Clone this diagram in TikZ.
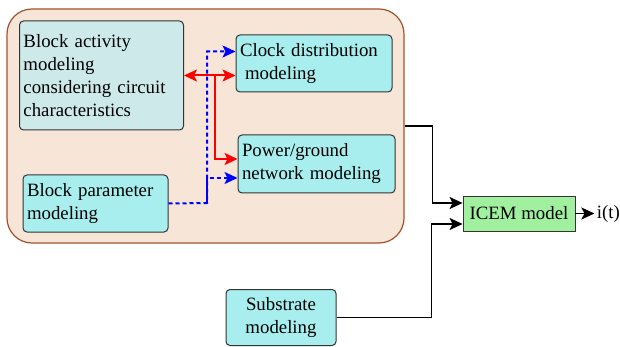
\documentclass[tikz,border=0pt]{standalone}
\usepackage{fontspec}
\setmainfont{Liberation Serif}
\usetikzlibrary{positioning, arrows.meta}

\definecolor{peach}{RGB}{247,230,216}
\definecolor{rust}{RGB}{160,82,45}
\definecolor{pale}{RGB}{205,233,233}
\definecolor{aqua}{RGB}{168,238,238}
\definecolor{mint}{RGB}{160,240,160}

\begin{document}
\begin{tikzpicture}[x=0.5pt, y=-0.5pt, >={Stealth[length=6.5pt,width=6pt,inset=1.5pt]}, font=\fontsize{9.4}{11.5}\selectfont]
        \tikzstyle{group}=[draw=rust, fill=peach, rounded corners=12.5pt, line width=0.6pt];
        \tikzstyle{mod}=[draw=black!80, fill=aqua, rounded corners=2pt, align=left, inner sep=2pt, line width=0.5pt];
        \tikzstyle{wire}=[black, line width=0.8pt];
        \tikzstyle{ctrl}=[draw=blue, line width=1pt, dash pattern=on 2pt off 1.5pt];
        \tikzstyle{link}=[draw=red, line width=1pt];
        \useasboundingbox (0,0) rectangle (620,347);

        \node[group, minimum width=198.5pt, minimum height=117pt] (chip) at (205.5,126) {};
        \node[mod, fill=pale, text width=78pt, minimum height=54.5pt] (activity) at (101.5,75.5) {Block activity\\ modeling\\ considering circuit\\ characteristics};
        \node[mod, text width=74pt, minimum height=28.5pt] (clock) at (314,63.5) {Clock distribution\\ \hspace*{2.5pt}modeling};
        \node[mod, text width=74.5pt, minimum height=29pt] (power) at (316.5,164) {Power/ground\\ network modeling};
        \node[mod, text width=68.5pt, minimum height=28.5pt] (param) at (95.5,203.5) {Block parameter\\ modeling};
        \node[mod, align=center, text width=51pt, minimum height=28pt] (substrate) at (281,317.5) {Substrate\\ modeling};
        \node[draw=black!80, fill=mint, minimum width=56pt, minimum height=17.5pt, inner sep=2pt] (icem) at (519,213.5) {ICEM model};
        \node[right=9.5pt of icem, inner sep=1pt] (it) {i(t)};

        \coordinate (rj) at (215,76);
        \coordinate (bj) at (207,203);

        \draw[link, <->] (activity.east) -- (activity.east -| clock.west);
        \draw[link, ->] (rj) |- ([yshift=2.5pt]power.west);
        \draw[ctrl, ->] (param.east) -- (bj) |- ([yshift=6pt]clock.west);
        \draw[ctrl, ->] (bj) |- ([yshift=-7pt]power.west);

        \draw[wire, ->] (chip.east) -- ++(14pt,0) |- ([yshift=5.25pt]icem.west);
        \draw[wire, ->] (substrate.east) -- ++(47.5pt,0) |- ([yshift=-5.25pt]icem.west);
        \draw[wire, ->] (icem) -- (it);
\end{tikzpicture}
\end{document}
